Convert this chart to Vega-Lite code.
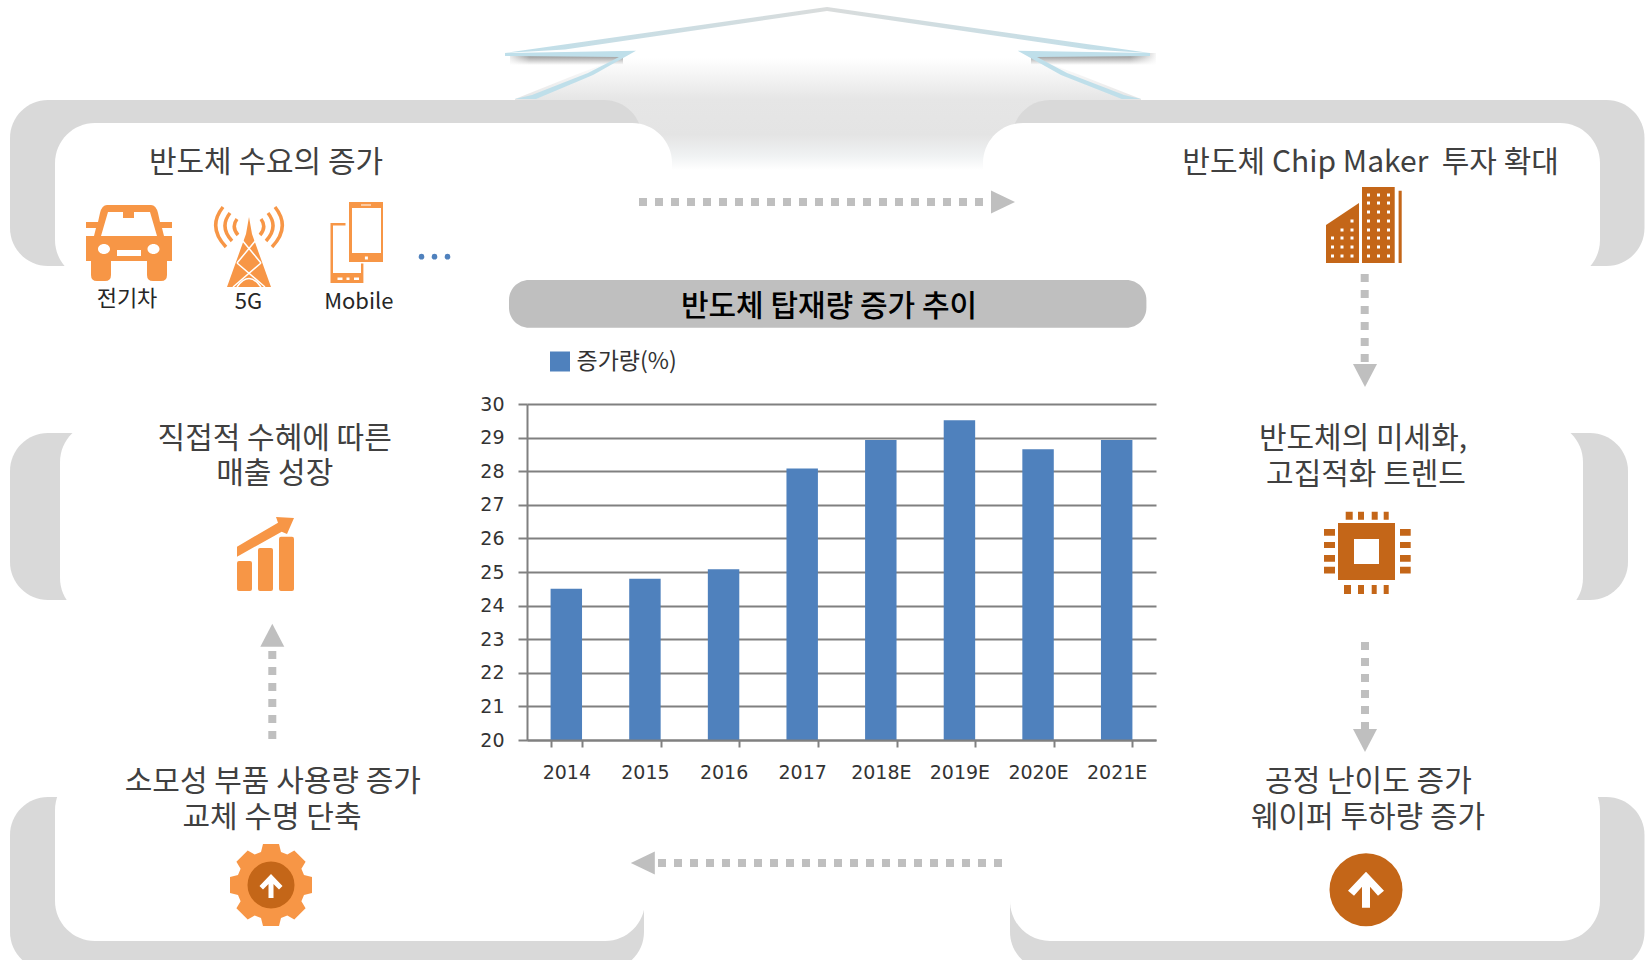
{"$schema":"https://vega.github.io/schema/vega-lite/v6.json","width":629,"height":336,"autosize":{"type":"none"},"padding":{"left":527,"top":404,"right":491,"bottom":220},"background":"#ffffff","config":{"view":{"stroke":null}},
"datasets":{
"bars":[{"year":"2014","value":24.5,"series":"증가량(%)"},{"year":"2015","value":24.8,"series":"증가량(%)"},{"year":"2016","value":25.08,"series":"증가량(%)"},{"year":"2017","value":28.08,"series":"증가량(%)"},{"year":"2018E","value":28.93,"series":"증가량(%)"},{"year":"2019E","value":29.52,"series":"증가량(%)"},{"year":"2020E","value":28.65,"series":"증가량(%)"},{"year":"2021E","value":28.93,"series":"증가량(%)"}],
"gray":[{"x":10,"x2":642,"y":100,"y2":266},{"x":1012,"x2":1644.5,"y":100,"y2":266},{"x":10,"x2":120,"y":433,"y2":600},{"x":1500,"x2":1628,"y":433,"y2":600},{"x":10,"x2":644,"y":797,"y2":970},{"x":1010,"x2":1644.5,"y":797,"y2":970}],
"white":[{"x":55,"x2":672,"y":123,"y2":280},{"x":983,"x2":1600,"y":123,"y2":280},{"x":60,"x2":400,"y":422,"y2":618},{"x":1300,"x2":1583,"y":422,"y2":618},{"x":55,"x2":645,"y":770,"y2":941},{"x":1010,"x2":1600,"y":770,"y2":941}],
"headings":[{"label":"반도체 수요의 증가","x":266,"y":162.5},{"label":"반도체 Chip Maker\u00a0\u00a0투자 확대","x":1370.6,"y":162.5},{"label":"직접적 수혜에 따른","x":274.7,"y":439},{"label":"매출 성장","x":274.7,"y":474},{"label":"반도체의 미세화,","x":1363,"y":439},{"label":"고집적화 트렌드","x":1366,"y":474.5},{"label":"소모성 부품 사용량 증가","x":272.8,"y":781.5},{"label":"교체 수명 단축","x":272,"y":817.5},{"label":"공정 난이도 증가","x":1368.4,"y":781.5},{"label":"웨이퍼 투하량 증가","x":1368,"y":817.5}],
"small":[{"label":"전기차","x":127,"y":299},{"label":"5G","x":248.5,"y":302},{"label":"Mobile","x":358.8,"y":302}]
},
"resolve":{"scale":{"x":"independent","y":"independent"}},
"layer":[
{"encoding":{"x":{"field":"x","type":"quantitative","scale":{"domain":[0,1647],"range":[-527,1120],"nice":false,"zero":false},"axis":null},"y":{"field":"y","type":"quantitative","scale":{"domain":[0,960],"range":[-404,556],"nice":false,"zero":false},"axis":null}},
"layer":[
{"data":{"values":[{"x":515,"y":99,"y2":170},{"x":575,"y":75,"y2":170},{"x":636,"y":52,"y2":170},{"x":1018,"y":52,"y2":170},{"x":1080,"y":75,"y2":170},{"x":1141,"y":99,"y2":170}]},"mark":{"type":"area","orient":"vertical","fill":{"gradient":"linear","x1":0,"y1":0,"x2":0,"y2":1,"stops":[{"offset":0,"color":"#ffffff"},{"offset":0.05,"color":"#ffffff"},{"offset":0.4,"color":"#e6e6e6"},{"offset":0.7,"color":"#e4e4e4"},{"offset":0.88,"color":"#f0f2f3"},{"offset":1,"color":"#ffffff"}]}},"encoding":{"y2":{"field":"y2"}}},
{"data":{"values":[{"x":510,"x2":623,"y":53,"y2":65},{"x":1031,"x2":1156,"y":53,"y2":65}]},"mark":{"type":"rect","fill":{"gradient":"linear","x1":0,"y1":0,"x2":0,"y2":1,"stops":[{"offset":0,"color":"#8e8e8e"},{"offset":0.35,"color":"#a8a8a8"},{"offset":1,"color":"#ffffff"}]}},"encoding":{"x2":{"field":"x2"},"y2":{"field":"y2"}}},
{"data":{"values":[{"x":505,"x2":530,"y":53,"y2":66}]},"mark":{"type":"rect","fill":{"gradient":"linear","x1":0,"y1":0,"x2":1,"y2":0,"stops":[{"offset":0,"color":"rgba(255,255,255,1)"},{"offset":1,"color":"rgba(255,255,255,0)"}]}},"encoding":{"x2":{"field":"x2"},"y2":{"field":"y2"}}},
{"data":{"values":[{"x":1130,"x2":1158,"y":53,"y2":66}]},"mark":{"type":"rect","fill":{"gradient":"linear","x1":0,"y1":0,"x2":1,"y2":0,"stops":[{"offset":0,"color":"rgba(255,255,255,0)"},{"offset":1,"color":"rgba(255,255,255,1)"}]}},"encoding":{"x2":{"field":"x2"},"y2":{"field":"y2"}}},
{"data":{"values":[{"x":827,"y":30}]},"mark":{"type":"point","size":4,"filled":true,"opacity":1,"strokeWidth":0,"shape":"M-322,23L0,-23L323,23L262,19.5L0,-19L-262,19.5Z","fill":{"gradient":"linear","x1":0,"y1":0,"x2":1,"y2":0,"stops":[{"offset":0,"color":"#bfdfea"},{"offset":0.5,"color":"#d9dcdc"},{"offset":1,"color":"#bfdfea"}]}}},
{"data":{"values":[{"x":827,"y":30}]},"mark":{"type":"point","size":4,"filled":true,"opacity":1,"strokeWidth":0,"color":"#bfdfea","shape":"M-322,23L-191,20.7L-234,45L-291,69L-312,69L-295,65L-239,43L-208,27L-322,26Z M323,23L190.7,20.7L234,45L294.8,69L314,69L297,65L240,43L210,27L323,26Z"}},
{"data":{"name":"gray"},"mark":{"type":"rect","color":"#D9D9D9","cornerRadius":38},"encoding":{"x2":{"field":"x2"},"y2":{"field":"y2"}}},
{"data":{"name":"white"},"mark":{"type":"rect","color":"#ffffff","cornerRadius":40},"encoding":{"x2":{"field":"x2"},"y2":{"field":"y2"}}},
{"data":{"values":[{"x":509,"x2":1146.4,"y":280,"y2":327.7}]},"mark":{"type":"rect","color":"#BFBFBF","cornerRadius":20},"encoding":{"x2":{"field":"x2"},"y2":{"field":"y2"}}},
{"data":{"values":[{"x":639,"x2":983,"y":202},{"x":658,"x2":1002,"y":863}]},"mark":{"type":"rule","color":"#BFBFBF","strokeWidth":8,"strokeDash":[8,8]},"encoding":{"x2":{"field":"x2"}}},
{"data":{"values":[{"x":1364.7,"y":274,"y2":363},{"x":1365,"y":642,"y2":731},{"x":272.3,"y":651,"y2":739}]},"mark":{"type":"rule","color":"#BFBFBF","strokeWidth":8,"strokeDash":[8,8]},"encoding":{"y2":{"field":"y2"}}},
{"data":{"values":[{"x":991,"y":202}]},"mark":{"type":"point","size":4,"filled":true,"opacity":1,"color":"#BFBFBF","shape":"M0,-11.5L24,0L0,11.5Z"}},
{"data":{"values":[{"x":654.8,"y":863}]},"mark":{"type":"point","size":4,"filled":true,"opacity":1,"color":"#BFBFBF","shape":"M0,-11.5L-24,0L0,11.5Z"}},
{"data":{"values":[{"x":1365,"y":364},{"x":1365,"y":729}]},"mark":{"type":"point","size":4,"filled":true,"opacity":1,"color":"#BFBFBF","shape":"M-12,0L12,0L0,23Z"}},
{"data":{"values":[{"x":272.3,"y":646.7}]},"mark":{"type":"point","size":4,"filled":true,"opacity":1,"color":"#BFBFBF","shape":"M-12,0L12,0L0,-23Z"}},
{"data":{"values":[{"x":129,"y":243}]},"mark":{"type":"point","size":4,"filled":true,"opacity":1,"color":"#F79646","shape":"M-22,-38L22,-38Q27,-38 29,-30L31,-21L43,-21L43,-15L33,-15L35,-7L43,-7L43,18L38,18L38,32Q38,38 32,38L24,38Q18,38 18,32L18,18L-18,18L-18,32Q-18,38 -24,38L-32,38Q-38,38 -38,32L-38,18L-43,18L-43,-7L-35,-7L-33,-15L-43,-15L-43,-21L-31,-21L-29,-30Q-27,-38 -22,-38Z"}},
{"data":{"values":[{"x":129,"y":243}]},"mark":{"type":"point","size":4,"filled":true,"opacity":1,"color":"#ffffff","shape":"M-21,-31L-6,-31L-6,-25L5,-25L5,-31L21,-31L28,-7L-28,-7Z M-12,7L12,7L12,13L-12,13Z M-31,6a6,5 0 1,0 12,0a6,5 0 1,0 -12,0Z M18.5,6a6,5 0 1,0 12,0a6,5 0 1,0 -12,0Z"}},
{"data":{"values":[{"x":249,"y":246}]},"mark":{"type":"point","size":4,"filled":true,"opacity":1,"color":"#F79646","shape":"M0,-29L3,-12L22,41L-22,41L-3,-12Z"}},
{"data":{"values":[{"x":249,"y":246}]},"mark":{"type":"point","size":4,"filled":false,"opacity":1,"stroke":"#ffffff","strokeWidth":1.5,"shape":"M-7,-6L12,17M7,-6L-12,17M-12,17L16,41M12,17L-16,41M-12,41Q0,24 12,41"}},
{"data":{"values":[{"x":249,"y":246}]},"mark":{"type":"point","size":4,"filled":false,"opacity":1,"stroke":"#F79646","strokeWidth":3.5,"shape":"M-26,-39Q-42,-19 -23,1M-19,-33Q-30,-19 -17,-5M-12,-27Q-18,-19 -11,-11M26,-39Q42,-19 23,1M19,-33Q30,-19 17,-5M12,-27Q18,-19 11,-11"}},
{"data":{"values":[{"x":357,"y":243}]},"mark":{"type":"point","size":4,"filled":true,"opacity":1,"color":"#F79646","shape":"M-8,-41h34v60h-34z M-5,-35v45h29v-45z M7.9,13.5v3h3v-3z M4,-38.5v1h10v-1z M-26.5,-20h15v2.5h-12.5v47.5h28v-9.5h2.4v19.5h-32.9z M-19.5,34.5v2.5h5v-2.5z M-10.5,34.5v2.5h3v-2.5z M-3,34.5v2.5h5v-2.5z"}},
{"data":{"values":[{"x":421.5,"y":256.7},{"x":434.5,"y":256.7},{"x":447.5,"y":256.7}]},"mark":{"type":"circle","size":32,"color":"#4F81BD","opacity":1}},
{"data":{"values":[{"x":1365,"y":225}]},"mark":{"type":"point","size":4,"filled":true,"opacity":1,"color":"#C46618","shape":"M-39,0L-6,-22L-6,38L-39,38Z M-3,-38L29.7,-38L29.7,38L-3,38Z M33.6,-34.3L36.7,-34.3L36.7,38L33.6,38Z"}},
{"data":{"values":[{"x":1365,"y":225}]},"mark":{"type":"point","size":4,"filled":true,"opacity":1,"color":"#ffffff","shape":"M2,-31.5h3v3h-3zM12,-31.5h3v3h-3zM22,-31.5h3v3h-3zM2,-23.5h3v3h-3zM12,-23.5h3v3h-3zM22,-23.5h3v3h-3zM2,-14.5h3v3h-3zM12,-14.5h3v3h-3zM22,-14.5h3v3h-3zM2,-5.5h3v3h-3zM12,-5.5h3v3h-3zM22,-5.5h3v3h-3zM2,3.5h3v3h-3zM12,3.5h3v3h-3zM22,3.5h3v3h-3zM2,11.5h3v3h-3zM12,11.5h3v3h-3zM22,11.5h3v3h-3zM2,20.5h3v3h-3zM12,20.5h3v3h-3zM22,20.5h3v3h-3zM2,29.5h3v3h-3zM12,29.5h3v3h-3zM22,29.5h3v3h-3zM-34,11.5h3v3h-3zM-24.5,11.5h3v3h-3zM-14.5,11.5h3v3h-3zM-34,20.5h3v3h-3zM-24.5,20.5h3v3h-3zM-14.5,20.5h3v3h-3zM-34,29.5h3v3h-3zM-24.5,29.5h3v3h-3zM-14.5,29.5h3v3h-3zM-24.5,3.5h3v3h-3zM-14.5,3.5h3v3h-3zM-14.5,-5.5h3v3h-3z"}},
{"data":{"values":[{"x":1366.5,"y":551.5}]},"mark":{"type":"point","size":4,"filled":true,"opacity":1,"color":"#C46618","shape":"M-28.5,-28.5h57v57h-57z M-12.5,-12.5v25h25v-25z M-20.8,-39.8h7v8h-7zM-8.5,-39.8h6v8h-6zM5.2,-39.8h6v8h-6zM17.2,-39.8h5v8h-5zM-22.5,33.5h7v9h-7zM-8.5,33.5h6v9h-6zM5.2,33.5h5v9h-5zM17.2,33.5h5v9h-5zM-42.5,-22.5h11v6.7h-11zM-42.5,-9.5h11v6h-11zM-42.5,3.5h11v6.7h-11zM-42.5,15.2h11v6.7h-11zM33.5,-22.5h10.7v6.7h-10.7zM33.5,-9.5h10.7v6h-10.7zM33.5,3.5h10.7v6.7h-10.7zM33.5,15.2h10.7v6.7h-10.7z"}},
{"data":{"values":[{"x":265,"y":555}]},"mark":{"type":"point","size":4,"filled":true,"opacity":1,"color":"#F79646","shape":"M-28,8Q-28,6 -26,6L-15,6Q-13,6 -13,8L-13,34Q-13,36 -15,36L-26,36Q-28,36 -28,34Z M-7,-5Q-7,-7 -5,-7L6,-7Q8,-7 8,-5L8,34Q8,36 6,36L-5,36Q-7,36 -7,34Z M14,-16Q14,-18.3 16,-18.3L27,-18.3Q29,-18.3 29,-16L29,34Q29,36 27,36L16,36Q14,36 14,34Z M-28,-8.3L13,-32.3L11,-38L29,-37L22,-21L16.7,-23.3L-28,1.7Z"}},
{"data":{"values":[{"x":271,"y":885}]},"mark":{"type":"point","size":4,"filled":true,"opacity":1,"color":"#F79646","shape":"M-10,-33L-8,-41L8,-41L10,-33L16.3,-30.4L23.3,-34.6L34.6,-23.3L30.4,-16.3L33,-10L41,-8L41,8L33,10L30.4,16.3L34.6,23.3L23.3,34.6L16.3,30.4L10,33L8,41L-8,41L-10,33L-16.3,30.4L-23.3,34.6L-34.6,23.3L-30.4,16.3L-33,10L-41,8L-41,-8L-33,-10L-30.4,-16.3L-34.6,-23.3L-23.3,-34.6L-16.3,-30.4Z"}},
{"data":{"values":[{"x":271,"y":885}]},"mark":{"type":"circle","size":2209,"color":"#C46618","opacity":1}},
{"data":{"values":[{"x":271,"y":885}]},"mark":{"type":"point","size":4,"filled":true,"opacity":1,"color":"#ffffff","shape":"M0,-11L11.5,1L8,4.5L2.5,-1L2.5,13L-2.5,13L-2.5,-1L-8,4.5L-11.5,1Z"}},
{"data":{"values":[{"x":1366,"y":889.7}]},"mark":{"type":"circle","size":5329,"color":"#C46618","opacity":1}},
{"data":{"values":[{"x":1366,"y":889.7}]},"mark":{"type":"point","size":4,"filled":true,"opacity":1,"color":"#ffffff","shape":"M0,-18L18,1L12,6L4,-3L4,18L-4,18L-4,-3L-12,6L-18,1Z"}},
{"data":{"name":"headings"},"mark":{"type":"text","font":"Noto Sans CJK KR","fontSize":30,"color":"#404040","align":"center","baseline":"middle"},"encoding":{"text":{"field":"label"}}},
{"data":{"name":"small"},"mark":{"type":"text","font":"Noto Sans CJK KR","fontSize":22,"color":"#262626","align":"center","baseline":"middle"},"encoding":{"text":{"field":"label"}}},
{"data":{"values":[{"label":"반도체 탑재량 증가 추이","x":829,"y":307}]},"mark":{"type":"text","font":"Noto Sans CJK KR","fontSize":30,"fontWeight":500,"color":"#000000","align":"center","baseline":"middle"},"encoding":{"text":{"field":"label"}}}
]},
{"data":{"name":"bars"},"mark":{"type":"bar"},
"encoding":{
"x":{"field":"year","type":"nominal","sort":null,"scale":{"paddingInner":0.6,"paddingOuter":0.3},"axis":{"title":null,"tickBand":"extent","labelAngle":0,"labelFont":"DejaVu Sans","labelFontSize":19,"labelColor":"#333333","labelPadding":16,"tickSize":7,"tickColor":"#808080","tickWidth":2,"domainColor":"#808080","domainWidth":2,"zindex":1,"grid":false}},
"y":{"field":"value","type":"quantitative","scale":{"domain":[20,30],"nice":false,"zero":false},"axis":{"title":null,"values":[20,21,22,23,24,25,26,27,28,29,30],"labelFont":"DejaVu Sans","labelFontSize":19,"labelColor":"#333333","labelPadding":14,"tickSize":9,"tickColor":"#808080","tickWidth":2,"domainColor":"#808080","domainWidth":2,"grid":true,"gridColor":"#808080","gridWidth":2,"gridOpacity":1,"zindex":0}},
"y2":{"datum":20},
"color":{"field":"series","type":"nominal","scale":{"range":["#4F81BD"]},"legend":{"title":null,"orient":"none","legendX":21.5,"legendY":-54,"symbolType":"square","symbolSize":400,"symbolStrokeWidth":0,"symbolOpacity":1,"labelFont":"Noto Sans CJK KR","labelFontSize":23,"labelColor":"#333333","labelOffset":5,"padding":0,"rowPadding":0}}
}}
]}
